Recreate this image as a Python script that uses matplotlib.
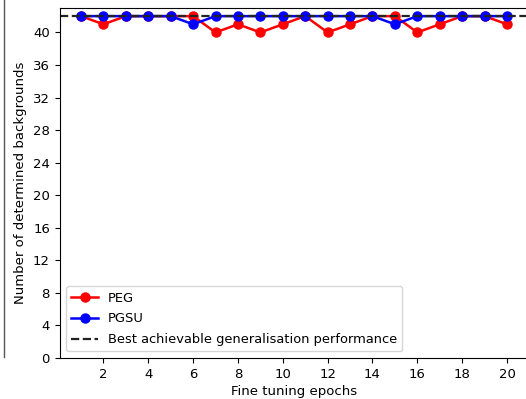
import matplotlib
matplotlib.use("Agg")
import matplotlib.pyplot as plt
from matplotlib.lines import Line2D

epochs = list(range(1, 21))
peg = [42, 41, 42, 42, 42, 42, 40, 41, 40, 41, 42, 40, 41, 42, 42, 40, 41, 42, 42, 41]
pgsu = [42, 42, 42, 42, 42, 41, 42, 42, 42, 42, 42, 42, 42, 42, 41, 42, 42, 42, 42, 42]
best = 42
yticks = list(range(0, 41, 4))
xticks = list(range(2, 21, 2))

fig = plt.figure(figsize=(5.26, 3.99), dpi=100)
W, H = 526, 399
ax = fig.add_axes([59.7 / W, 41 / H, 468.6 / W, 350 / H])

ax.plot(epochs, peg, color="red", marker="o", markersize=6.5, linewidth=1.8, label="PEG")
ax.plot(epochs, pgsu, color="blue", marker="o", markersize=6.5, linewidth=1.8, label="PGSU")
ax.axhline(best, color="#222222", linestyle="--", linewidth=1.6,
           label="Best achievable generalisation performance")

ax.set_ylim(0, 43)
ax.set_yticks(yticks)
ax.set_xticks(xticks)
ax.set_xlabel("Fine tuning epochs", fontsize=9.5, labelpad=3)
ax.set_ylabel("Number of determined backgrounds", fontsize=9.5)
ax.tick_params(labelsize=9.5)
ax.legend(loc="lower left", fontsize=9.4, labelspacing=0.6)

# border of the neighbouring (cropped) panel at the far left
fig.add_artist(Line2D([4 / W, 4 / W], [1.0, 42 / H], color="#555555", linewidth=1,
                      transform=fig.transFigure))

fig.savefig("out.png", dpi=100)
